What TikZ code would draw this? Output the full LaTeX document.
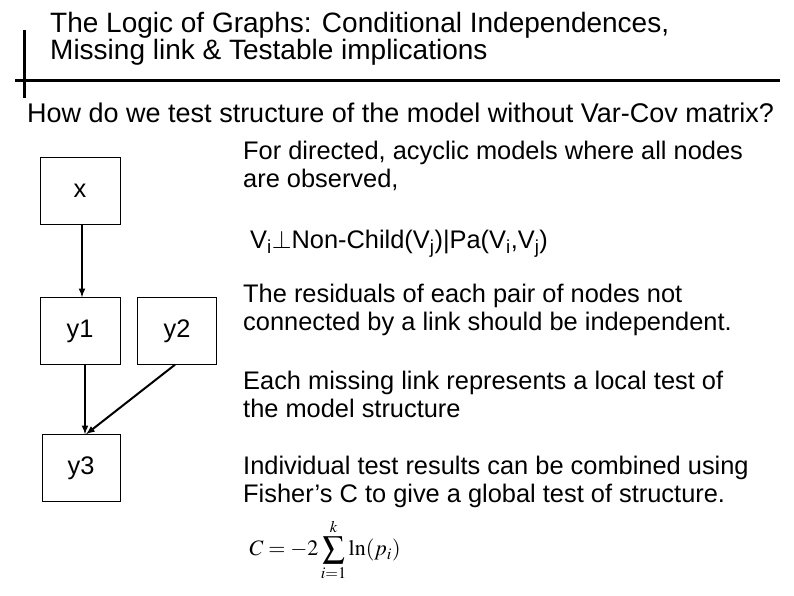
\documentclass[tikz,border=0pt]{standalone}
\usepackage{mathptmx}
\usepackage[no-math]{fontspec}
\setmainfont{Liberation Sans}
\usetikzlibrary{positioning}
\begin{document}
\begin{tikzpicture}[x=1pt,y=-1pt]
\tikzset{every node/.style={font=\fontsize{25.4}{28}\selectfont}}
\tikzset{var/.style={draw,minimum width=80pt,minimum height=67pt,inner sep=0pt}}
\tikzset{txt/.style={anchor=north west,align=left,inner sep=0pt}}
\tikzset{link/.style={line width=2pt,-latex}}
\useasboundingbox (0,0) rectangle (794,595);
% title
\node[txt,font=\fontsize{28}{27}\selectfont] (title) at (50,12) {The Logic of Graphs: Conditional Independences,\\Missing link \& Testable implications};
\draw[line width=3pt] (24,30) -- (24,98);
\draw[line width=3pt] (15,80) -- (780,80);
\node[txt,font=\fontsize{27}{30}\selectfont] (question) at (27,103) {How do we test structure of the model without Var-Cov matrix?};
% graph
\node[var] (x) at (80,191) {x};
\node[var] (y1) at (80,331) {y1};
\node[var,minimum width=79pt] (y2) at (177,331) {y2};
\node[var,minimum width=78pt] (y3) at (81,468) {y3};
\draw[link] (x.south -| 82,0) -- (y1.north -| 82,0);
\draw[link] (y1.south -| 85,0) -- (y3.north -| 85,0);
\draw[link] ([xshift=-2pt]y2.south) -- ([xshift=5pt]y3.north);
% text
\node[txt] (cond) at (243,141) {For directed, acyclic models where all nodes\\are observed,};
\node[txt] (indep) at (250,230) {V\textsubscript{i}$\perp$Non-Child(V\textsubscript{j})|Pa(V\textsubscript{i},V\textsubscript{j})};
\node[txt] (resid) at (243,284) {The residuals of each pair of nodes not\\connected by a link should be independent.};
\node[txt] (local) at (243,371) {Each missing link represents a local test of\\the model structure};
\node[txt] (fisher) at (243,456) {Individual test results can be combined using\\Fisher’s C to give a global test of structure.};
\node[inner sep=0pt,font=\fontsize{22}{24}\selectfont] (formula) at (325,550) {$C=-2\displaystyle\sum_{i=1}^{k}\ln(p_i)$};
\end{tikzpicture}
\end{document}
